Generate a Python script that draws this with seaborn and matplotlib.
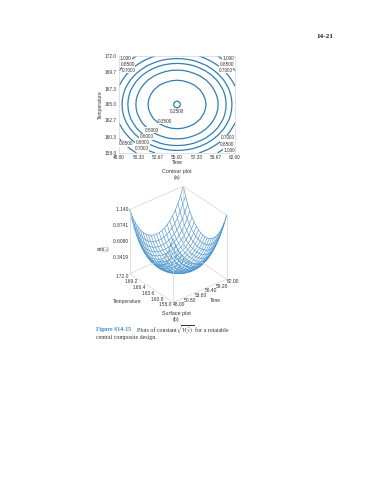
import numpy as np
import pandas as pd
import matplotlib

matplotlib.use("Agg")
import matplotlib.pyplot as plt
import seaborn as sns
from mpl_toolkits.mplot3d import proj3d

# quarter of the response surface (centre outwards)
quarter = [
    [0.2200, 0.2218, 0.2274, 0.2373, 0.2524, 0.2738, 0.3030, 0.3418, 0.3925, 0.4577, 0.5400],
    [0.2218, 0.2237, 0.2294, 0.2394, 0.2547, 0.2763, 0.3058, 0.3450, 0.3962, 0.4617, 0.5446],
    [0.2274, 0.2294, 0.2353, 0.2458, 0.2616, 0.2840, 0.3144, 0.3547, 0.4071, 0.4742, 0.5586],
    [0.2373, 0.2394, 0.2458, 0.2569, 0.2738, 0.2974, 0.3294, 0.3715, 0.4260, 0.4954, 0.5826],
    [0.2524, 0.2547, 0.2616, 0.2738, 0.2920, 0.3172, 0.3515, 0.3962, 0.4536, 0.5263, 0.6172],
    [0.2738, 0.2763, 0.2840, 0.2974, 0.3172, 0.3450, 0.3819, 0.4299, 0.4911, 0.5681, 0.6638],
    [0.3030, 0.3058, 0.3144, 0.3294, 0.3515, 0.3819, 0.4222, 0.4742, 0.5400, 0.6222, 0.7237],
    [0.3418, 0.3450, 0.3547, 0.3715, 0.3962, 0.4299, 0.4742, 0.5309, 0.6022, 0.6906, 0.7990],
    [0.3925, 0.3962, 0.4071, 0.4260, 0.4536, 0.4911, 0.5400, 0.6022, 0.6808, 0.7754, 0.8917],
    [0.4577, 0.4617, 0.4742, 0.4954, 0.5263, 0.5681, 0.6222, 0.6906, 0.7754, 0.8790, 1.0045],
    [0.5400, 0.5446, 0.5586, 0.5826, 0.6172, 0.6638, 0.7237, 0.7990, 0.8917, 1.0045, 1.1400],
]
ring_levels = [0.2738, 0.3463, 0.4231, 0.4965, 0.6096, 0.7978]
centre_time = [55.0]
centre_temp = [165.0]

time_ticks = [48.00, 50.33, 52.67, 55.00, 57.33, 59.67, 62.00]
temp_ticks = [158.0, 160.3, 162.7, 165.0, 167.3, 169.7, 172.0]

# contour labels: time, temperature, text
label_x = [48.80, 49.05, 49.21, 61.20, 60.99, 60.87, 61.11, 61.07, 61.28,
           48.84, 50.74, 50.86, 51.34, 51.94, 53.55, 54.96]
label_y = [171.57, 170.84, 169.97, 171.57, 170.79, 169.97, 160.17, 159.26, 158.43,
           159.30, 158.72, 159.50, 160.32, 161.28, 162.59, 163.99]
label_txt = ["1.000", "0.8500", "0.7000", "1.000", "0.8500", "0.7000", "0.7000", "0.8500",
             "1.000", "0.8500", "0.7000", "0.6000", "0.6000", "0.5000", "0.3500", "0.2500"]

z_ticks = [1.140, 0.8741, 0.6080, 0.3419]
z_tick_labels = ["1.140", "0.8741", "0.6080", "0.3419"]
temp_ticks3d = [172.0, 169.2, 166.4, 163.6, 160.8, 158.0]
time_ticks3d = [48.00, 50.80, 53.60, 56.40, 59.20, 62.00]

W, H = 365, 480
BLUE = "#2f7fb5"
WIRE = "#4f97d0"
EDGE = "#d4d4d4"
TXT = "#333333"

sns.set_style("white")
plt.rcParams["font.family"] = ["Liberation Sans", "DejaVu Sans"]
plt.rcParams["mathtext.fontset"] = "stix"

q = np.array(quarter)
top = np.hstack([q[:, :0:-1], q])
grid = np.vstack([top[:0:-1], top])
t_vals = np.linspace(48, 62, grid.shape[1])
T_vals = np.linspace(158, 172, grid.shape[0])
df = pd.DataFrame(grid, index=T_vals, columns=t_vals)

fig = plt.figure(figsize=(W / 100, H / 100), dpi=100)


def rect(left, top_px, right, bottom):
    return [left / W, 1 - bottom / H, (right - left) / W, (bottom - top_px) / H]


def put(x, y, s, **kw):
    kw.setdefault("color", TXT)
    kw.setdefault("ha", "center")
    kw.setdefault("va", "center")
    kw.setdefault("fontsize", 3.6)
    fig.text(x / W, 1 - y / H, s, **kw)


# contour plot
ax = fig.add_axes(rect(119, 56, 235, 153))
ax.contour(df.columns, df.index, df.values, levels=ring_levels, colors=BLUE, linewidths=0.9)
sns.scatterplot(x=centre_time, y=centre_temp, ax=ax, s=22, facecolor="none", edgecolor=BLUE, linewidth=0.9)
for x, y, s in zip(label_x, label_y, label_txt):
    ax.text(x, y, s, fontsize=3.4, color=TXT, ha="center", va="center",
            bbox=dict(fc="white", ec="none", pad=0.2))
ax.set_xlim(48, 62)
ax.set_ylim(158, 172)
ax.set_xticks(time_ticks)
ax.set_xticklabels([f"{v:.2f}" for v in time_ticks])
ax.set_yticks(temp_ticks)
ax.set_yticklabels([f"{v:.1f}" for v in temp_ticks])
ax.tick_params(labelsize=3.4, length=0, pad=1.5, colors=TXT)
for sp in ax.spines.values():
    sp.set_color(EDGE)
    sp.set_linewidth(0.5)

put(100, 105, "Temperature", rotation=90)
put(177, 163, "Time")
put(177, 171, "Contour plot", fontsize=3.9)
put(177, 178, "(a)", fontsize=3.9)

# surface plot
ax3 = fig.add_axes(rect(75.5, 147, 275.5, 347), projection="3d", proj_type="ortho")
ax3.set_box_aspect((1, 1, 1.1), zoom=0.6)
ax3.view_init(elev=32.5, azim=-129)
ax3.set_axis_off()
ax3.patch.set_alpha(0)
zlo, zhi = 0.0758, 1.14
ax3.set_xlim(48, 62, view_margin=0)
ax3.set_ylim(158, 172, view_margin=0)
ax3.set_zlim(zlo, zhi, view_margin=0)

X, Y = np.meshgrid(t_vals, T_vals)
ax3.plot_wireframe(X, Y, grid, rstride=1, cstride=1, color=WIRE, linewidth=0.45)

x0, x1, y0, y1 = 48, 62, 158, 172
edges = [
    ([x0, x1], [y1, y1], [zhi, zhi]),
    ([x1, x1], [y1, y0], [zhi, zhi]),
    ([x0, x1], [y1, y1], [zlo, zlo]),
    ([x1, x1], [y1, y0], [zlo, zlo]),
    ([x0, x1], [y0, y0], [zlo, zlo]),
    ([x0, x0], [y0, y1], [zlo, zlo]),
    ([x0, x0], [y1, y1], [zlo, zhi]),
    ([x1, x1], [y0, y0], [zlo, zhi]),
    ([x1, x1], [y1, y1], [zlo, zhi]),
    ([x0, x0], [y0, y0], [zlo, zhi]),
]
for ex, ey, ez in edges:
    ax3.plot(ex, ey, ez, color=EDGE, linewidth=0.5)


def label3d(x, y, z, s, **kw):
    px, py, _ = proj3d.proj_transform(x, y, z, ax3.get_proj())
    ax3.text2D(px, py, s, transform=ax3.transData, fontsize=3.5, color=TXT, **kw)


for v, s in zip(z_ticks, z_tick_labels):
    label3d(x0, y1, v, s + " ", ha="right", va="center")
for v in temp_ticks3d:
    label3d(x0, v, zlo, f"{v:.1f} ", ha="right", va="top")
for v in time_ticks3d:
    label3d(v, y0, zlo, f"{v:.2f}", ha="left", va="top")

put(103, 249, r"std($\hat{y}$)", rotation=0)
put(127, 302, "Temperature")
put(215, 300, "Time")
put(176, 313, "Surface plot", fontsize=3.9)
put(176, 320, "(b)", fontsize=3.9)

# page text
serif = ["Liberation Serif", "DejaVu Serif"]
put(325, 37, "14-21", family=serif, fontsize=5.2, fontweight="bold", color="#222222")
put(96, 330, "Figure S14-15", family=serif, fontsize=4.2, fontweight="bold", color="#3a8fc4", ha="left")
put(137, 330, "Plots of constant", family=serif, fontsize=4.2, ha="left")
put(176, 329.5, r"$\sqrt{V(\hat{y})}$", fontsize=4.2, ha="left")
put(195, 330, "for a rotatable", family=serif, fontsize=4.2, ha="left")
put(96, 337, "central composite design.", family=serif, fontsize=4.2, ha="left")

fig.savefig("out.png", dpi=100)
